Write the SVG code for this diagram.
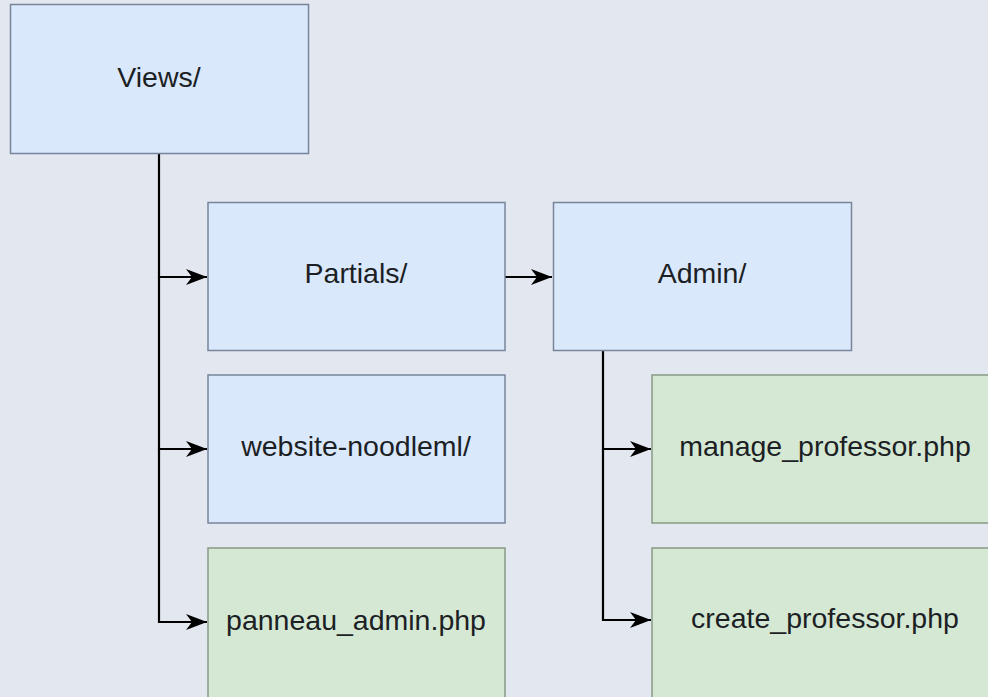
<svg xmlns="http://www.w3.org/2000/svg" width="988" height="697" viewBox="0 0 988 697">
<style>
.blue{fill:#dae8fc;stroke:#77859c;stroke-width:1.5}
.green{fill:#d5e8d4;stroke:#879a85;stroke-width:1.5}
.lbl{font-family:"Liberation Sans",Arial,sans-serif;font-size:28.5px;fill:#1c1f24;text-anchor:middle}
.edge{fill:none;stroke:#000;stroke-width:2.2}
</style>
<defs>
<marker id="arr" markerUnits="userSpaceOnUse" viewBox="0 0 22 20" markerWidth="22" markerHeight="20" refX="21" refY="10" orient="auto">
<path d="M0,2 L21,10 L0,18 L6,10 z" fill="#000"/>
</marker>
</defs>
<rect width="988" height="697" fill="#e3e7ef"/>
<g id="connectors">
<path class="edge" d="M159,154 V277 H207" marker-end="url(#arr)"/>
<path class="edge" d="M159,277 V449 H207" marker-end="url(#arr)"/>
<path class="edge" d="M159,449 V622 H207" marker-end="url(#arr)"/>
<path class="edge" d="M505,277 H552" marker-end="url(#arr)"/>
<path class="edge" d="M603,351 V449 H651" marker-end="url(#arr)"/>
<path class="edge" d="M603,449 V620 H651" marker-end="url(#arr)"/>
</g>
<g id="views"><rect class="blue" x="10.5" y="4.5" width="298" height="149"/><text class="lbl" x="159" y="87">Views/</text></g>
<g id="partials"><rect class="blue" x="208" y="202.5" width="297" height="148"/><text class="lbl" x="356" y="283">Partials/</text></g>
<g id="admin"><rect class="blue" x="553.5" y="202.5" width="298" height="148"/><text class="lbl" x="702" y="283">Admin/</text></g>
<g id="website"><rect class="blue" x="208" y="375" width="297" height="148"/><text class="lbl" x="356" y="456">website-noodleml/</text></g>
<g id="panneau"><rect class="green" x="208" y="548" width="297" height="152"/><text class="lbl" x="356" y="630">panneau_admin.php</text></g>
<g id="manage"><rect class="green" x="652" y="375" width="346" height="148"/><text class="lbl" x="825" y="456">manage_professor.php</text></g>
<g id="create"><rect class="green" x="652" y="548" width="346" height="152"/><text class="lbl" x="825" y="628">create_professor.php</text></g>
</svg>
